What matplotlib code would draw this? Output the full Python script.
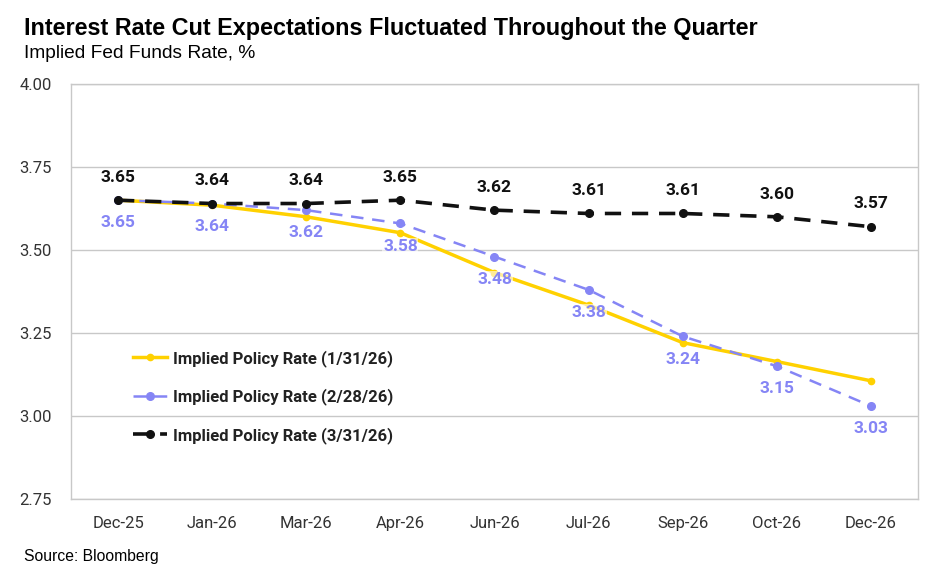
import matplotlib
matplotlib.use("Agg")
import matplotlib.pyplot as plt
from matplotlib import font_manager

categories = ["Dec-25", "Jan-26", "Mar-26", "Apr-26", "Jun-26", "Jul-26", "Sep-26", "Oct-26", "Dec-26"]
rate_jan = [3.65, 3.635, 3.60, 3.552, 3.432, 3.334, 3.221, 3.164, 3.106]
rate_feb = [3.65, 3.64, 3.62, 3.58, 3.48, 3.38, 3.24, 3.15, 3.03]
rate_mar = [3.65, 3.64, 3.64, 3.65, 3.62, 3.61, 3.61, 3.60, 3.57]
legend_labels = ["Implied Policy Rate (1/31/26)", "Implied Policy Rate (2/28/26)", "Implied Policy Rate (3/31/26)"]
yticks = [2.75, 3.00, 3.25, 3.50, 3.75, 4.00]

names = {f.name for f in font_manager.fontManager.ttflist}
narrow = "Liberation Sans Narrow" if "Liberation Sans Narrow" in names else "Roboto"
regular = "Liberation Sans"

YELLOW = "#FFD100"
BLUE = "#8585F5"
BLACK = "#111111"
GRID = "#C8C8C8"

fig = plt.figure(figsize=(9.52, 5.78), dpi=100)
ax = fig.add_axes([71/952, 1-499/578, (918-71)/952, (499-84)/578])

x = list(range(len(categories)))
l1, = ax.plot(x, rate_jan, color=YELLOW, lw=2.5, marker="o", ms=4.5, zorder=3, label=legend_labels[0])
l2, = ax.plot(x, rate_feb, color=BLUE, lw=1.8, ls=(0, (5, 3.5)), marker="o", ms=5.5, zorder=4, label=legend_labels[1])
l3, = ax.plot(x, rate_mar, color=BLACK, lw=2.6, ls=(0, (4.5, 3)), marker="o", ms=5.5, zorder=5, label=legend_labels[2])

for xi, v in zip(x, rate_mar):
    ax.annotate(f"{v:.2f}", (xi, v), xytext=(0, 11), textcoords="offset points",
                ha="center", va="bottom", fontsize=12.5, fontweight="bold", color=BLACK,
                family=[narrow, "DejaVu Sans"], zorder=6,
                bbox=dict(facecolor="white", edgecolor="none", alpha=0.6, pad=0.5))
for xi, v in zip(x, rate_feb):
    ax.annotate(f"{v:.2f}", (xi, v), xytext=(0, -11), textcoords="offset points",
                ha="center", va="top", fontsize=12.5, fontweight="bold", color=BLUE,
                family=[narrow, "DejaVu Sans"], zorder=6,
                bbox=dict(facecolor="white", edgecolor="none", alpha=0.6, pad=0.5))

ax.set_xlim(-0.5, len(categories) - 0.5)
ax.set_ylim(2.75, 4.00)
ax.set_yticks(yticks)
ax.set_yticklabels([f"{t:.2f}" for t in yticks])
ax.set_xticks(x)
ax.set_xticklabels(categories)
for lab in ax.get_xticklabels() + ax.get_yticklabels():
    lab.set_family([narrow, "DejaVu Sans"])
    lab.set_fontsize(12)
    lab.set_color("#333333")
ax.tick_params(axis="both", length=0)
ax.tick_params(axis="x", pad=12)
ax.tick_params(axis="y", pad=14)
ax.yaxis.grid(True, color=GRID, lw=1)
ax.set_axisbelow(True)
for s in ["left", "bottom", "right", "top"]:
    ax.spines[s].set_color(GRID)
    ax.spines[s].set_linewidth(1)

leg = ax.legend(handles=[l1, l2, l3], loc="lower left", bbox_to_anchor=(0.056, 0.097),
                frameon=False, handlelength=2.0, handletextpad=0.4, labelspacing=1.3,
                prop={"family": [narrow, "DejaVu Sans"], "weight": "bold", "size": 12})
for t in leg.get_texts():
    t.set_color("#222222")

fig.text(24/952, 1-29/578, "Interest Rate Cut Expectations Fluctuated Throughout the Quarter",
         fontsize=16.8, fontweight="bold", family=[regular, "DejaVu Sans"], va="center", color="#000000")
fig.text(24/952, 1-53/578, "Implied Fed Funds Rate, %", fontsize=13.8,
         family=[regular, "DejaVu Sans"], va="center", color="#000000")
fig.text(24/952, 1-556/578, "Source: Bloomberg", fontsize=11.3,
         family=[regular, "DejaVu Sans"], va="center", color="#000000")

fig.savefig("out.png", dpi=100, facecolor="white")
